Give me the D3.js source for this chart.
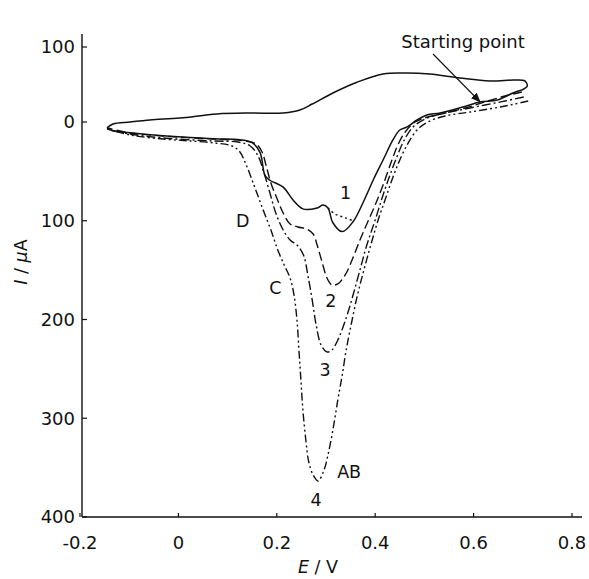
<!DOCTYPE html>
<html>
<head>
<meta charset="utf-8">
<script src="https://cdn.jsdelivr.net/npm/d3@7"></script>
<style>
  body { margin: 0; background: #fff; }
  svg text { font-family: "DejaVu Sans", sans-serif; fill: #111; }
</style>
</head>
<body>
<div id="chart"></div>
<script>
// E / V (x) and I / uA (y, anodic positive)
const xTicks = [-0.2, 0, 0.2, 0.4, 0.6, 0.8];
const yTicks = [100, 0, -100, -200, -300, -400];

// anodic (upper) branch, shared by all scans
const anodicE = [-0.145, -0.133, -0.098, -0.058, 0.003, 0.078, 0.146, 0.213, 0.247, 0.272, 0.314, 0.363, 0.416, 0.461, 0.511, 0.572, 0.633, 0.684, 0.704, 0.709, 0.698];
const anodicI = [-6, -2, 0, 2.7, 5.3, 10.7, 12, 12, 16, 24, 38.7, 53, 64, 65.3, 64, 58.7, 54.7, 56, 54.7, 48, 42.7];

// scan 1, cathodic branch (solid)
const scan1E = [0.698, 0.680, 0.648, 0.613, 0.578, 0.532, 0.505, 0.485, 0.465, 0.450, 0.436, 0.416, 0.396, 0.375, 0.355, 0.333, 0.314, 0.304, 0.294, 0.282, 0.253, 0.233, 0.213, 0.186, 0.176, 0.166, 0.150, 0.125, 0.070, -0.031, -0.098, -0.133, -0.145];
const scan1I = [42.7, 38.7, 29.3, 26.7, 20, 12, 9.3, 2.7, -5, -8.1, -18.2, -38.5, -58.7, -82, -101, -111, -102, -87, -84, -87, -88, -79, -66, -59, -54, -31, -21, -18, -17, -14, -11, -9, -6];

// dotted segment under peak 1
const dotE = [0.304, 0.318, 0.339, 0.355];
const dotI = [-87, -93, -97, -100];

// scan 2 (dashed)
const scan2E = [0.698, 0.664, 0.623, 0.583, 0.542, 0.507, 0.481, 0.461, 0.446, 0.434, 0.416, 0.400, 0.385, 0.369, 0.353, 0.339, 0.324, 0.312, 0.302, 0.292, 0.282, 0.274, 0.261, 0.243, 0.227, 0.213, 0.200, 0.188, 0.178, 0.170, 0.158, 0.135, 0.070, -0.031, -0.098, -0.145];
const scan2I = [40, 34.7, 26.7, 18.7, 12, 6.7, 0, -10.1, -23.3, -38.5, -63.8, -84, -101, -119.5, -139.7, -154.9, -164, -165, -158, -141.8, -124.6, -113.4, -108.4, -106.3, -103.3, -92.2, -77, -61.8, -43.5, -30.4, -22.3, -19.2, -17.2, -14.2, -11.1, -6.1];

// scan 3 (dash-dot)
const scan3E = [0.702, 0.664, 0.623, 0.572, 0.532, 0.501, 0.477, 0.459, 0.444, 0.430, 0.416, 0.400, 0.383, 0.369, 0.355, 0.341, 0.324, 0.312, 0.302, 0.290, 0.280, 0.272, 0.263, 0.255, 0.243, 0.227, 0.213, 0.198, 0.186, 0.174, 0.162, 0.146, 0.121, 0.070, -0.031, -0.098, -0.145];
const scan3I = [33.3, 28, 22.7, 16, 10.7, 4, -5.1, -18.2, -35.4, -53.7, -73.9, -99.2, -124.6, -149.9, -175.2, -198.5, -220.8, -230.9, -232.9, -225.8, -205.6, -180.3, -154.9, -135.7, -125.6, -119.5, -109.4, -92.2, -71.9, -51.6, -34.4, -24.3, -20.3, -19.2, -16.2, -12.2, -7.1];

// scan 4 (dash-dot-dot)
const scan4E = [0.711, 0.684, 0.654, 0.593, 0.542, 0.507, 0.485, 0.467, 0.450, 0.434, 0.420, 0.406, 0.391, 0.377, 0.363, 0.351, 0.341, 0.333, 0.324, 0.314, 0.304, 0.296, 0.284, 0.274, 0.265, 0.259, 0.253, 0.249, 0.245, 0.241, 0.235, 0.227, 0.215, 0.202, 0.188, 0.170, 0.152, 0.137, 0.125, 0.109, 0.074, 0.024, -0.031, -0.098, -0.145];
const scan4I = [28, 24, 20, 13.3, 8, 0, -8.1, -21.3, -38.5, -58.7, -79, -99.2, -124.6, -149.9, -177.2, -205.6, -230.9, -256.2, -281.5, -311.9, -337.2, -352.4, -363.5, -357.5, -344.3, -322, -291.6, -261.3, -230.9, -200.5, -175.2, -158, -144.8, -129.6, -109.4, -86.1, -61.8, -42.5, -30.4, -24.3, -21.3, -19.2, -17.2, -13.2, -7.1];

// curve labels: text, E, I
const labelText = ["1", "2", "3", "4", "AB", "C", "D"];
const labelE = [0.340, 0.310, 0.298, 0.280, 0.347, 0.197, 0.131];
const labelI = [-72, -181, -251, -382, -354, -168, -100];

const width = 589, height = 579;
const svg = d3.select("#chart").append("svg")
    .attr("width", width).attr("height", height);

const x = d3.scaleLinear().domain([-0.2, 0.8]).range([80, 572]);
// the printed axis has a shorter span above zero
const y = d3.scaleLinear().domain([100, 0, -400]).range([47, 122, 517]);

// axes
svg.append("line").attr("x1", 82).attr("x2", 82).attr("y1", 34).attr("y2", 517)
    .attr("stroke", "#111").attr("stroke-width", 1.4);
svg.append("line").attr("x1", 82).attr("x2", 582).attr("y1", 517).attr("y2", 517)
    .attr("stroke", "#111").attr("stroke-width", 1.4);

svg.selectAll(".ytick").data(yTicks).enter().append("line")
    .attr("x1", 82).attr("x2", 87)
    .attr("y1", d => y(d)).attr("y2", d => y(d))
    .attr("stroke", "#111").attr("stroke-width", 1.2);
svg.selectAll(".ylab").data(yTicks).enter().append("text")
    .attr("x", 75).attr("y", d => y(d)).attr("dy", "0.36em")
    .attr("text-anchor", "end").style("font-size", "18px")
    .text(d => Math.abs(d));

svg.selectAll(".xtick").data(xTicks).enter().append("line")
    .attr("x1", d => x(d)).attr("x2", d => x(d))
    .attr("y1", 517).attr("y2", 513)
    .attr("stroke", "#111").attr("stroke-width", 1.2);
svg.selectAll(".xlab").data(xTicks).enter().append("text")
    .attr("x", d => x(d)).attr("y", 549)
    .attr("text-anchor", "middle").style("font-size", "18px")
    .text(d => d === 0 ? "0" : d.toFixed(1));

// axis titles
const xt = svg.append("text").attr("x", 318).attr("y", 573)
    .attr("text-anchor", "middle").style("font-size", "17.5px");
xt.append("tspan").style("font-style", "italic").text("E");
xt.append("tspan").text(" / V");

const yt = svg.append("text")
    .attr("transform", "translate(27,262) rotate(-90)")
    .attr("text-anchor", "middle").style("font-size", "17.5px");
yt.append("tspan").style("font-style", "italic").text("I");
yt.append("tspan").text(" / ");
yt.append("tspan").style("font-style", "italic").text("\u03bc");
yt.append("tspan").text("A");

// curves
const line = d3.line()
    .x(d => x(d[0])).y(d => y(d[1]))
    .curve(d3.curveCatmullRom.alpha(0.5));

function draw(es, is, dash, w) {
  svg.append("path")
      .datum(d3.zip(es, is))
      .attr("d", line)
      .attr("fill", "none")
      .attr("stroke", "#111")
      .attr("stroke-width", w)
      .attr("stroke-dasharray", dash);
}

draw(scan4E, scan4I, "8,3,2,3,2,3", 1.4);
draw(scan3E, scan3I, "9,3,2,3", 1.4);
draw(scan2E, scan2I, "9,4", 1.4);
draw(dotE, dotI, "2,3", 1.4);
draw(scan1E, scan1I, null, 1.5);
draw(anodicE, anodicI, null, 1.5);

svg.selectAll(".clab").data(d3.range(labelText.length)).enter().append("text")
    .attr("x", i => x(labelE[i])).attr("y", i => y(labelI[i]))
    .attr("dy", "0.36em").attr("text-anchor", "middle")
    .style("font-size", "17.5px")
    .text(i => labelText[i]);

// starting point annotation
svg.append("defs").append("marker")
    .attr("id", "arrow").attr("viewBox", "0 0 10 10")
    .attr("refX", 9).attr("refY", 5)
    .attr("markerWidth", 9).attr("markerHeight", 9)
    .attr("orient", "auto")
  .append("path").attr("d", "M0,1 L10,5 L0,9 Z").attr("fill", "#111");

svg.append("line")
    .attr("x1", 433).attr("y1", 54)
    .attr("x2", x(0.613)).attr("y2", y(27))
    .attr("stroke", "#111").attr("stroke-width", 1.1)
    .attr("marker-end", "url(#arrow)");
svg.append("text").attr("x", 463).attr("y", 42).attr("dy", "0.36em")
    .attr("text-anchor", "middle").style("font-size", "18px")
    .text("Starting point");
</script>
</body>
</html>
